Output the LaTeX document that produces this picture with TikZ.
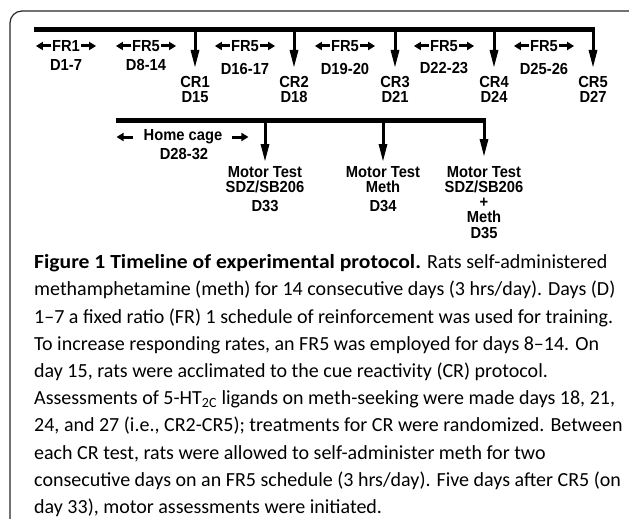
\documentclass[tikz,border=0pt]{standalone}
\usepackage{fontspec}
\usetikzlibrary{arrows.meta}
\newfontfamily\labelfont[FakeStretch=0.92]{Liberation Sans}
\newfontfamily\capfont[Ligatures=TeX]{Carlito}
\newfontfamily\capheadfont[FakeStretch=1.08]{Carlito Bold}

\begin{document}
\begin{tikzpicture}[x=1pt,y=-1pt,
  lbl/.style={font=\labelfont\bfseries\fontsize{16}{15}\selectfont,inner sep=0pt,align=center},
  bar/.style={line width=5pt},
  drop/.style={line width=3pt,-{Triangle[length=18pt,width=8pt]}},
  span/.style={line width=3pt,-{Triangle[length=7pt,width=8pt]}}]
\useasboundingbox (0,0) rectangle (629,519);
% frame
\draw[line width=1.2pt,rounded corners=12pt,black!85] (10,530) -- (10,11) -- (641,11) -- (641,530);
% first timeline
\coordinate (top0) at (34,30);
\coordinate (top1) at (595,30);
\draw[bar] (top0) -- (top1);
\foreach \x/\fr/\d/\dy [count=\i] in {66/FR1/D1-7/65,146/FR5/D8-14/65,245/FR5/D16-17/68.5,
  345/FR5/D19-20/68.5,444/FR5/D22-23/68.5,544/FR5/D25-26/68.5}{
  \node[lbl,inner sep=1pt] (fr\i) at (\x,46) {\fr};
  \draw[span] (fr\i.west) -- ++(-15,0);
  \draw[span] (fr\i.east) -- ++(15,0);
  \node[lbl] (day\i) at (\x,\dy) {\d};
}
\foreach \x/\d [count=\i] in {195/15,294/18,395/21,494/24,593/27}{
  \node[lbl,anchor=north] (cr\i) at (\x,76) {CR\i\\D\d};
  \draw[drop,shorten >=8pt] (cr\i |- top0) -- (cr\i.north);
}
% second timeline
\coordinate (low0) at (116,120);
\coordinate (low1) at (486,120);
\draw[bar] (low0) -- (low1);
\node[lbl] (home) at (183,137) {Home cage};
\draw[span] ([xshift=-11pt]home.west) -- ++(-16,0);
\draw[span] ([xshift=10pt]home.east) -- ++(16,0);
\node[lbl] (homeday) at (184,154) {D28-32};
\node[lbl,anchor=north] (mt1) at (265,166) {Motor Test\\SDZ/SB206\\[4.5pt]D33};
\node[lbl,anchor=north] (mt2) at (383,166) {Motor Test\\Meth\\[4.5pt]D34};
\node[lbl,anchor=north] (mt3) at (484,166) {Motor Test\\SDZ/SB206\\+\\Meth\\[1pt]D35};
\draw[drop,shorten >=4pt] (mt1 |- low0) -- (mt1.north);
\draw[drop,shorten >=4pt] (mt2 |- low0) -- (mt2.north);
\draw[drop,shorten >=9pt] (mt3 |- low0) -- (mt3.north);
% caption (base = last line)
\node[anchor=base west,inner sep=0pt,align=left,font=\capfont\fontsize{20}{27.2}\selectfont]
  (caption) at (34,513.5) {{\capheadfont Figure 1 Timeline of experimental protocol.} Rats self-administered\\
methamphetamine (meth) for 14 consecutive days (3 hrs/day). Days (D)\\
1–7 a fixed ratio (FR) 1 schedule of reinforcement was used for training.\\
To increase responding rates, an FR5 was employed for days 8–14. On\\
day 15, rats were acclimated to the cue reactivity (CR) protocol.\\
Assessments of 5-HT\textsubscript{2C} ligands on meth-seeking were made days 18, 21,\\
24, and 27 (i.e., CR2-CR5); treatments for CR were randomized. Between\\
each CR test, rats were allowed to self-administer meth for two\\
consecutive days on an FR5 schedule (3 hrs/day). Five days after CR5 (on\\
day 33), motor assessments were initiated.};
\end{tikzpicture}
\end{document}
